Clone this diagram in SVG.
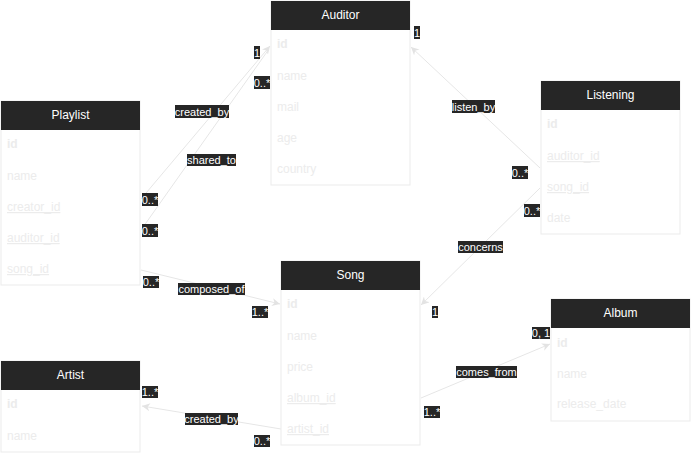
<svg xmlns="http://www.w3.org/2000/svg" width="691" height="454" viewBox="0 0 691 454">
<style>
.box{fill:#ffffff;stroke:#ebebeb;stroke-width:1}
.hdr{fill:#262626}
.ht{font-family:"Liberation Sans",Arial,sans-serif;font-size:12px;fill:#ffffff;text-anchor:middle}
.f{font-family:"Liberation Sans",Arial,sans-serif;font-size:12px;fill:#ececec}
.pk{font-weight:bold}
.fk{text-decoration:underline}
.edge{stroke:#e6e6e6;stroke-width:1;fill:none}
.lb{fill:#262626}
.lt{font-family:"Liberation Sans",Arial,sans-serif;font-size:11px;fill:#ffffff;text-anchor:middle}
</style>
<defs>
<marker id="arr" viewBox="0 0 10 10" refX="10" refY="5" markerWidth="8" markerHeight="8" orient="auto" markerUnits="userSpaceOnUse">
<path d="M0,0 L10,5 L0,10 L3,5 Z" fill="#e3e3e3"/>
</marker>
</defs>
<rect width="691" height="454" fill="#ffffff"/>

<g id="edges">
<line class="edge" x1="141" y1="199" x2="270" y2="46" marker-end="url(#arr)"/>
<line class="edge" x1="141" y1="230" x2="269" y2="49"/>
<line class="edge" x1="540" y1="168" x2="411" y2="47" marker-end="url(#arr)"/>
<line class="edge" x1="540" y1="188" x2="421" y2="305" marker-end="url(#arr)"/>
<line class="edge" x1="141" y1="270" x2="280" y2="304" marker-end="url(#arr)"/>
<line class="edge" x1="281" y1="429" x2="142" y2="406" marker-end="url(#arr)"/>
<line class="edge" x1="421" y1="398" x2="550" y2="344" marker-end="url(#arr)"/>

<g id="labels">
<rect class="lb" x="175" y="105" width="54" height="13"/><text class="lt" x="202" y="115.5">created_by</text>
<rect class="lb" x="187" y="154" width="49" height="12"/><text class="lt" x="211.5" y="164">shared_to</text>
<rect class="lb" x="142" y="193" width="16" height="13"/><text class="lt" x="150" y="203.5">0..*</text>
<rect class="lb" x="142" y="224" width="16" height="13"/><text class="lt" x="150" y="234.5">0..*</text>
<rect class="lb" x="254" y="46" width="6" height="13"/><text class="lt" x="257" y="56.5">1</text>
<rect class="lb" x="254" y="76" width="16" height="13"/><text class="lt" x="262" y="86.5">0..*</text>
<rect class="lb" x="414" y="26" width="6" height="13"/><text class="lt" x="417" y="36.5">1</text>
<rect class="lb" x="452" y="100" width="43" height="13"/><text class="lt" x="473.5" y="110.5">listen_by</text>
<rect class="lb" x="512" y="166" width="16" height="13"/><text class="lt" x="520" y="176.5">0..*</text>
<rect class="lb" x="524" y="204" width="16" height="13"/><text class="lt" x="532" y="214.5">0..*</text>
<rect class="lb" x="458" y="241" width="45" height="12"/><text class="lt" x="480.5" y="251">concerns</text>
<rect class="lb" x="432" y="306" width="6" height="12"/><text class="lt" x="435" y="316">1</text>
<rect class="lb" x="143" y="276" width="16" height="12"/><text class="lt" x="151" y="286">0..*</text>
<rect class="lb" x="178" y="283" width="67" height="12"/><text class="lt" x="211.5" y="293">composed_of</text>
<rect class="lb" x="252" y="306" width="16" height="12"/><text class="lt" x="260" y="316">1..*</text>
<rect class="lb" x="142" y="386" width="16" height="12"/><text class="lt" x="150" y="396">1..*</text>
<rect class="lb" x="185" y="413" width="53" height="12"/><text class="lt" x="211.5" y="423">created_by</text>
<rect class="lb" x="254" y="435" width="16" height="12"/><text class="lt" x="262" y="445">0..*</text>
<rect class="lb" x="456" y="366" width="61" height="12"/><text class="lt" x="486.5" y="376">comes_from</text>
<rect class="lb" x="532" y="327" width="18" height="12"/><text class="lt" x="541" y="337">0, 1</text>
<rect class="lb" x="424" y="406" width="16" height="12"/><text class="lt" x="432" y="416">1..*</text>
</g>
</g>

<g id="Playlist">
<rect class="box" x="1" y="101" width="139" height="184"/>
<rect class="hdr" x="1" y="101" width="139" height="29"/>
<text class="ht" x="70.5" y="119">Playlist</text>
<text class="f pk" x="7" y="148">id</text>
<text class="f" x="7" y="180">name</text>
<text class="f fk" x="7" y="211">creator_id</text>
<text class="f fk" x="7" y="242">auditor_id</text>
<text class="f fk" x="7" y="273">song_id</text>
</g>

<g id="Auditor">
<rect class="box" x="271" y="1" width="139" height="184"/>
<rect class="hdr" x="271" y="1" width="139" height="29"/>
<text class="ht" x="340.5" y="19">Auditor</text>
<text class="f pk" x="277" y="48">id</text>
<text class="f" x="277" y="80">name</text>
<text class="f" x="277" y="111">mail</text>
<text class="f" x="277" y="142">age</text>
<text class="f" x="277" y="173">country</text>
</g>

<g id="Listening">
<rect class="box" x="541" y="81" width="139" height="153"/>
<rect class="hdr" x="541" y="81" width="139" height="29"/>
<text class="ht" x="610.5" y="99">Listening</text>
<text class="f pk" x="547" y="128">id</text>
<text class="f fk" x="547" y="160">auditor_id</text>
<text class="f fk" x="547" y="191">song_id</text>
<text class="f" x="547" y="222">date</text>
</g>

<g id="Song">
<rect class="box" x="281" y="261" width="139" height="184"/>
<rect class="hdr" x="281" y="261" width="139" height="29"/>
<text class="ht" x="350.5" y="279">Song</text>
<text class="f pk" x="287" y="308">id</text>
<text class="f" x="287" y="340">name</text>
<text class="f" x="287" y="371">price</text>
<text class="f fk" x="287" y="402">album_id</text>
<text class="f fk" x="287" y="433">artist_id</text>
</g>

<g id="Album">
<rect class="box" x="551" y="299" width="139" height="122"/>
<rect class="hdr" x="551" y="299" width="139" height="29"/>
<text class="ht" x="620.5" y="317">Album</text>
<text class="f pk" x="557" y="347">id</text>
<text class="f" x="557" y="378">name</text>
<text class="f" x="557" y="408">release_date</text>
</g>

<g id="Artist">
<rect class="box" x="1" y="361" width="139" height="91"/>
<rect class="hdr" x="1" y="361" width="139" height="29"/>
<text class="ht" x="70.5" y="379">Artist</text>
<text class="f pk" x="7" y="408">id</text>
<text class="f" x="7" y="440">name</text>
</g>
</svg>
